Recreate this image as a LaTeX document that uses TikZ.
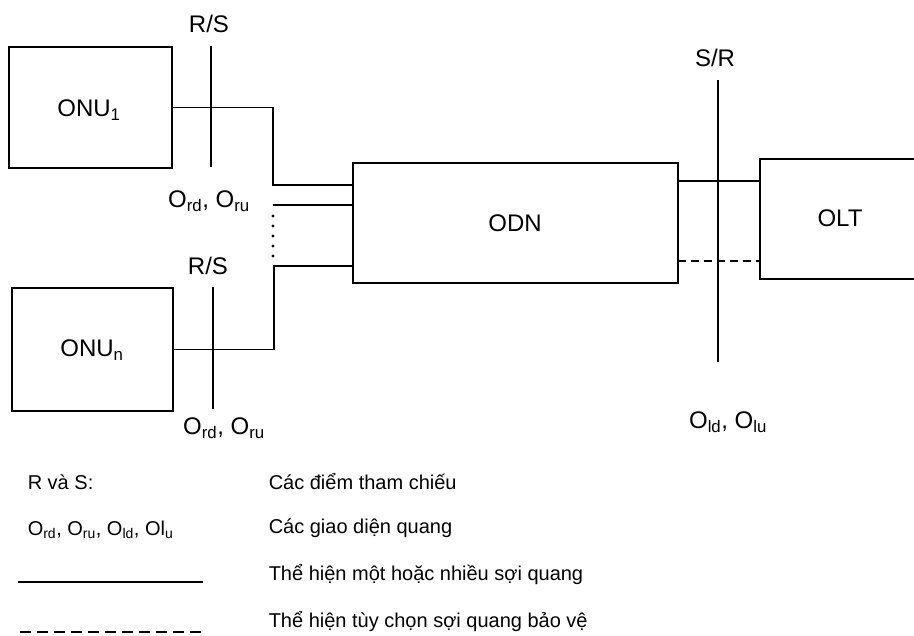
\documentclass[tikz,border=0pt]{standalone}
\usepackage{fontspec}
\setmainfont{Liberation Sans}
\begin{document}
\begin{tikzpicture}[x=1pt,y=-1pt,line width=1.5pt,
  box/.style={draw,line width=1.5pt,inner sep=0pt},
  lbl/.style={inner sep=0pt,font=\fontsize{24}{28}\selectfont},
  leg/.style={inner sep=0pt,anchor=west,font=\fontsize{20}{24}\selectfont},
  fiber/.style={line width=1.5pt},
  prot/.style={line width=1.5pt,dash pattern=on 8pt off 5pt}]
\clip (0,0) rectangle (914,636);
% boxes
\node[box,minimum width=163pt,minimum height=121pt] (onu1) at (90.5,107.5) {};
\node[lbl] (onu1t) at (89,110) {ONU\textsubscript{1}};
\node[box,minimum width=161pt,minimum height=123pt] (onun) at (92.5,349.5) {};
\node[lbl] (onunt) at (92,350) {ONU\textsubscript{n}};
\node[box,minimum width=325pt,minimum height=120pt] (odn) at (515.5,223) {};
\node[lbl] (odnt) at (515,223) {ODN};
\node[box,minimum width=240pt,minimum height=120pt] (olt) at (880,219) {};
\node[lbl] (oltt) at (840,218) {OLT};
% fibres ONU -> ODN
\coordinate (j1) at (273,185);
\coordinate (j2) at (273,205);
\coordinate (j3) at (274,266);
\draw[fiber] (onu1.east) -| (j1) -- (odn.west |- j1);
\draw[fiber] (j2) -- (odn.west |- j2);
\draw[fiber] (onun.east) -| (j3) -- (odn.west |- j3);
\foreach \yy in {216,226,236,246,256} \fill (273,\yy) circle (1.6pt);
% ODN -> OLT
\coordinate (k1) at (678,181);
\coordinate (k2) at (678,261);
\draw[fiber] (k1) -- (olt.west |- k1);
\draw[prot] (k2) -- (olt.west |- k2);
% reference points
\node[lbl] (rs1) at (209,24) {R/S};
\coordinate (rs1t) at (211,46);
\coordinate (rs1b) at (211,167);
\draw[fiber] (rs1t) -- (rs1b);
\node[lbl] (if1) at (209,201) {O\textsubscript{rd}, O\textsubscript{ru}};
\node[lbl] (rs2) at (208,266) {R/S};
\coordinate (rs2t) at (213,287);
\coordinate (rs2b) at (213,409);
\draw[fiber] (rs2t) -- (rs2b);
\node[lbl] (if2) at (224,428) {O\textsubscript{rd}, O\textsubscript{ru}};
\node[lbl] (sr) at (715,58) {S/R};
\coordinate (srt) at (718,80);
\coordinate (srb) at (718,362);
\draw[fiber] (srt) -- (srb);
\node[lbl] (if3) at (728,422) {O\textsubscript{ld}, O\textsubscript{lu}};
% legend
\node[leg] (l1a) at (27,482) {R và S:};
\node[leg] (l1b) at (268,482) {Các điểm tham chiếu};
\node[leg] (l2a) at (27,530) {O\textsubscript{rd}, O\textsubscript{ru}, O\textsubscript{ld}, Ol\textsubscript{u}};
\node[leg] (l2b) at (268,528) {Các giao diện quang};
\coordinate (s1) at (18,582);
\coordinate (s2) at (203,582);
\draw[line width=2pt] (s1) -- (s2);
\node[leg] (l3b) at (268,575) {Thể hiện một hoặc nhiều sợi quang};
\coordinate (d1) at (20,632);
\coordinate (d2) at (203,632);
\draw[line width=1.8pt,dash pattern=on 11pt off 6pt] (d1) -- (d2);
\node[leg] (l4b) at (268,622) {Thể hiện tùy chọn sợi quang bảo vệ};
\end{tikzpicture}
\end{document}
